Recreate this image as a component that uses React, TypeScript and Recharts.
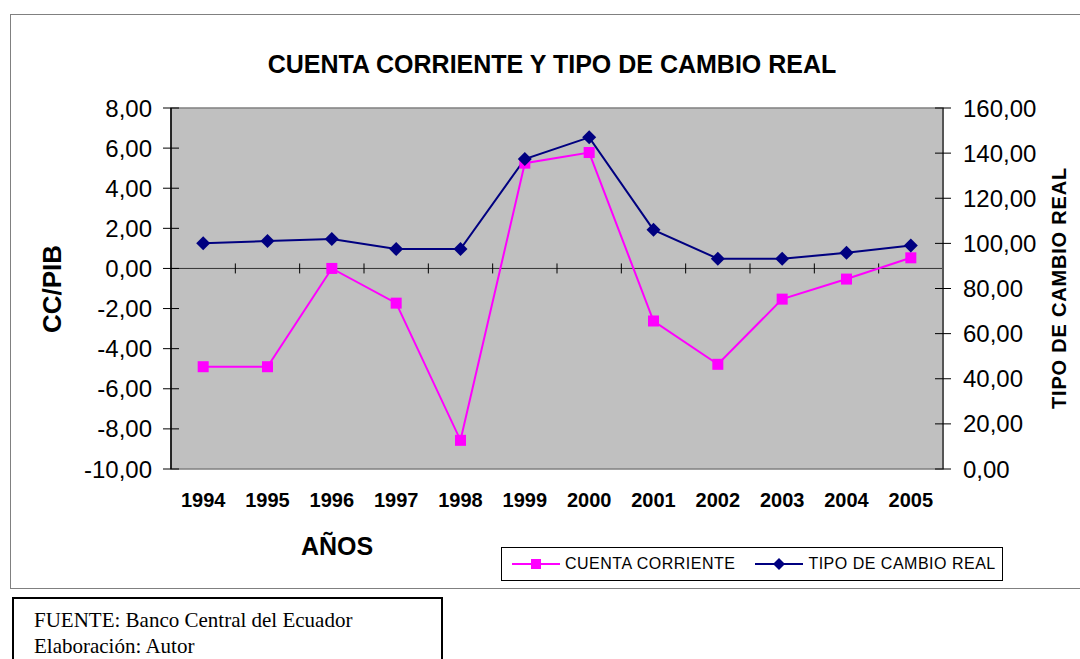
import React from 'react';
import { LineChart, Line, XAxis, YAxis, ReferenceArea, ReferenceLine } from 'recharts';

const years = ['1994', '1995', '1996', '1997', '1998', '1999', '2000', '2001', '2002', '2003', '2004', '2005'];
const cuentaCorriente = [-4.9, -4.9, 0.0, -1.73, -8.57, 5.25, 5.78, -2.62, -4.78, -1.53, -0.53, 0.53];
const tipoCambioReal = [100.1, 101.0, 101.9, 97.5, 97.5, 137.4, 147.0, 106.0, 93.2, 93.2, 95.8, 99.1];
const leftTicks = [-10, -8, -6, -4, -2, 0, 2, 4, 6, 8];
const rightTicks = [0, 20, 40, 60, 80, 100, 120, 140, 160];

const data = years.map((year, i) => ({ year, cc: cuentaCorriente[i], tcr: tipoCambioReal[i] }));

const FONT = '"Liberation Sans", Arial, sans-serif';
const PINK = '#FF00FF';
const NAVY = '#000080';

const fmt = (v: number) => v.toFixed(2).replace('.', ',');

const SquareDot = (props: any) => {
  const { cx, cy, index } = props;
  return <rect key={'sq' + index} x={cx - 5.5} y={cy - 5.5} width={11} height={11} fill={PINK} />;
};

const DiamondDot = (props: any) => {
  const { cx, cy, index } = props;
  return (
    <polygon
      key={'dm' + index}
      points={`${cx},${cy - 7} ${cx + 7},${cy} ${cx},${cy + 7} ${cx - 7},${cy}`}
      fill={NAVY}
    />
  );
};

// zero line with the category tick marks crossing it
const ZeroAxis = (props: any) => {
  const { x1, y1, x2 } = props;
  const n = years.length;
  const step = (x2 - x1) / n;
  const marks = [];
  for (let i = 1; i < n; i++) {
    const x = x1 + step * i;
    marks.push(<line key={i} x1={x} y1={y1 - 5} x2={x} y2={y1 + 5} stroke="#000" strokeWidth={1} />);
  }
  return (
    <g>
      <line x1={x1} y1={y1} x2={x2} y2={y1} stroke="#333" strokeWidth={1} />
      {marks}
    </g>
  );
};

// ticks that cross the axis line, as in the original
const LeftTick = (props: any) => {
  const { x, y, payload } = props;
  return (
    <g>
      <line x1={x + 11} y1={y} x2={x + 27} y2={y} stroke="#000" strokeWidth={1} />
      <text x={x} y={y} dy="0.355em" textAnchor="end" fill="#000" fontSize={24} fontFamily={FONT}>
        {fmt(payload.value)}
      </text>
    </g>
  );
};

const RightTick = (props: any) => {
  const { x, y, payload } = props;
  return (
    <g>
      <line x1={x - 28} y1={y} x2={x - 12} y2={y} stroke="#000" strokeWidth={1} />
      <text x={x} y={y} dy="0.355em" textAnchor="start" fill="#000" fontSize={24} fontFamily={FONT}>
        {fmt(payload.value)}
      </text>
    </g>
  );
};

export default function App() {
  return (
    <div style={{ position: 'absolute', left: 0, top: 0, width: 1080, height: 659, overflow: 'hidden', background: '#fff', fontFamily: FONT }}>
      <div style={{ position: 'absolute', left: 10, top: 14, width: 1090, height: 573, border: '1px solid #808080' }} />
      <div style={{ position: 'absolute', left: 0, top: 0 }}>
        <LineChart width={1080} height={659} data={data} margin={{ top: 108, right: 37, bottom: 150, left: 91 }}>
          <ReferenceArea yAxisId="left" y1={-10} y2={8} fill="#C0C0C0" fillOpacity={1} stroke="#808080" strokeWidth={1.5} />
          <XAxis
            dataKey="year"
            scale="band"
            interval={0}
            axisLine={false}
            tickLine={false}
            height={40}
            tickMargin={18}
            tick={{ fill: '#000', fontSize: 20, fontWeight: 700, fontFamily: FONT }}
          />
          <YAxis
            yAxisId="left"
            domain={[-10, 8]}
            ticks={leftTicks}
            interval={0}
            width={80}
            axisLine={{ stroke: '#000', strokeWidth: 1.5 }}
            tickLine={false}
            tickSize={8}
            tickMargin={11}
            tick={LeftTick}
          />
          <YAxis
            yAxisId="right"
            orientation="right"
            domain={[0, 160]}
            ticks={rightTicks}
            interval={0}
            width={100}
            axisLine={{ stroke: '#555', strokeWidth: 2 }}
            tickLine={false}
            tickSize={8}
            tickMargin={12}
            tick={RightTick}
          />
          <ReferenceLine yAxisId="left" y={0} shape={ZeroAxis} />
          <Line
            yAxisId="left"
            type="linear"
            dataKey="cc"
            stroke={PINK}
            strokeWidth={2}
            dot={SquareDot}
            activeDot={false}
            isAnimationActive={false}
          />
          <Line
            yAxisId="right"
            type="linear"
            dataKey="tcr"
            stroke={NAVY}
            strokeWidth={2}
            dot={DiamondDot}
            activeDot={false}
            isAnimationActive={false}
          />
        </LineChart>
      </div>

      <div style={{ position: 'absolute', left: 0, width: 1104, top: 49, textAlign: 'center', fontSize: 25, fontWeight: 700, color: '#000', lineHeight: '30px' }}>
        CUENTA CORRIENTE Y TIPO DE CAMBIO REAL
      </div>

      <div style={{ position: 'absolute', left: 52, top: 289, width: 0, height: 0 }}>
        <div style={{ position: 'absolute', transform: 'translate(-50%, -50%) rotate(-90deg)', whiteSpace: 'nowrap', fontSize: 26, fontWeight: 700, lineHeight: '30px' }}>
          CC/PIB
        </div>
      </div>

      <div style={{ position: 'absolute', left: 1059, top: 288, width: 0, height: 0 }}>
        <div style={{ position: 'absolute', transform: 'translate(-50%, -50%) rotate(-90deg)', whiteSpace: 'nowrap', fontSize: 20, fontWeight: 700, letterSpacing: 0.8, lineHeight: '24px' }}>
          TIPO DE CAMBIO REAL
        </div>
      </div>

      <div style={{ position: 'absolute', left: 337, top: 546, width: 0, height: 0 }}>
        <div style={{ position: 'absolute', transform: 'translate(-50%, -50%)', whiteSpace: 'nowrap', fontSize: 25, fontWeight: 700, lineHeight: '30px' }}>
          AÑOS
        </div>
      </div>

      <div style={{ position: 'absolute', left: 501, top: 547, width: 500, height: 32, border: '1px solid #000', background: '#fff', display: 'flex', alignItems: 'center', fontSize: 16, letterSpacing: 0.5 }}>
        <svg width={50} height={14} style={{ marginLeft: 10 }}>
          <line x1={0} y1={7} x2={48} y2={7} stroke={PINK} strokeWidth={2} />
          <rect x={19} y={2} width={10} height={10} fill={PINK} />
        </svg>
        <span style={{ marginLeft: 3 }}>CUENTA CORRIENTE</span>
        <svg width={50} height={14} style={{ marginLeft: 20 }}>
          <line x1={0} y1={7} x2={48} y2={7} stroke={NAVY} strokeWidth={2} />
          <polygon points="24,1 30,7 24,13 18,7" fill={NAVY} />
        </svg>
        <span style={{ marginLeft: 3 }}>TIPO DE CAMBIO REAL</span>
      </div>

      <div style={{ position: 'absolute', left: 12, top: 597, width: 431, height: 80, border: '2px solid #000', fontFamily: '"Liberation Serif", "Times New Roman", serif', fontSize: 21, lineHeight: '26px', padding: '8px 0 0 20px', boxSizing: 'border-box' }}>
        <div>FUENTE: Banco Central del Ecuador</div>
        <div>Elaboración: Autor</div>
      </div>
    </div>
  );
}
